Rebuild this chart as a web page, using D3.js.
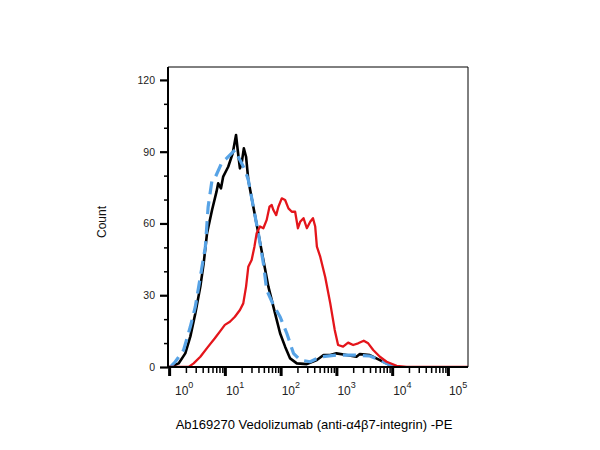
<!DOCTYPE html>
<html>
<head>
<meta charset="utf-8">
<script src="https://cdn.jsdelivr.net/npm/d3@7"></script>
<style>
  html, body { margin: 0; padding: 0; background: #fff; }
  svg { display: block; font-family: "Liberation Sans", Arial, sans-serif; }
</style>
</head>
<body>
<svg id="chart" width="600" height="450"></svg>
<script>
// ---- Data (x as log10 of PE intensity, y as Count) ----
const decadeTicks = [0, 1, 2, 3, 4, 5];
const countTicks = [0, 30, 60, 90, 120];

const blackX = [0.00, 0.02, 0.17, 0.29, 0.38, 0.47, 0.56, 0.62, 0.68, 0.77, 0.85, 0.88, 0.93, 0.97, 1.06, 1.14, 1.20, 1.23, 1.27, 1.30, 1.34, 1.38, 1.42, 1.51, 1.60, 1.69, 1.78, 1.90, 1.99, 2.08, 2.17, 2.29, 2.47, 2.65, 2.77, 2.89, 3.00, 3.18, 3.36, 3.42, 3.60, 3.78, 3.90, 4.02, 4.10];
const blackY = [0, 0, 1.5, 5.7, 12.7, 22.4, 33.6, 43.4, 55.9, 65.6, 73.3, 76.8, 74.7, 79.6, 83.7, 89.3, 97, 90.7, 83, 85, 91.4, 87.9, 78.2, 67, 55.9, 44.7, 33.6, 22.4, 14.1, 8.5, 3.6, 1.5, 1.2, 2.9, 5, 5, 5.7, 5, 4.3, 5.4, 5, 2.9, 1.5, 0.1, 0];

const blueX = [0.02, 0.11, 0.26, 0.38, 0.47, 0.56, 0.65, 0.70, 0.77, 0.82, 0.94, 1.03, 1.12, 1.18, 1.27, 1.36, 1.42, 1.51, 1.60, 1.69, 1.75, 1.87, 1.99, 2.11, 2.23, 2.35, 2.53, 2.71, 3.00, 3.30, 3.60, 3.78, 3.96, 4.08];
const blueY = [0, 2.2, 7.1, 16.8, 25.2, 37.7, 50.3, 67, 78.2, 78.9, 85.2, 87.2, 89.3, 90.7, 86.5, 82.4, 78.2, 67, 55.9, 43.4, 32.2, 25.9, 21, 14.1, 5.7, 2.9, 2.2, 4.2, 5, 5, 4.6, 2.9, 0.8, 0];

const redX = [-0.02, 0.20, 0.35, 0.44, 0.56, 0.70, 0.82, 0.91, 1.00, 1.09, 1.18, 1.27, 1.33, 1.38, 1.42, 1.48, 1.53, 1.57, 1.63, 1.69, 1.75, 1.80, 1.84, 1.87, 1.92, 1.96, 2.02, 2.08, 2.14, 2.20, 2.26, 2.31, 2.35, 2.41, 2.47, 2.53, 2.58, 2.62, 2.65, 2.71, 2.80, 2.89, 2.97, 3.03, 3.12, 3.21, 3.30, 3.39, 3.49, 3.57, 3.66, 3.78, 3.90, 4.08, 4.26, 5.36];
const redY = [0, 0, 0, 1.5, 4.3, 8.5, 12, 14.8, 17.6, 18.9, 21, 23.8, 26.6, 33.6, 41.9, 44.7, 50.3, 55.9, 58.7, 58, 61.5, 67, 67.7, 65.6, 63.5, 67, 70.5, 69.8, 66.3, 64.9, 64.9, 58, 60.7, 62.2, 58, 60.7, 62.2, 58.7, 50.3, 46.1, 37.5, 26.6, 15.5, 9.2, 8.5, 10.2, 9.2, 9.9, 11, 9.9, 7.1, 4.3, 2.2, 0.5, 0, 0];

const xTitle = "Ab169270 Vedolizumab (anti-\u03b14\u03b27-integrin) -PE";
const yTitle = "Count";

// ---- Layout ----
const svg = d3.select("#chart");
const mLeft = 168, mTop = 67, W = 300, H = 300;

const x = d3.scaleLinear().domain([-0.02, 5.36]).range([0, W]);
const y = d3.scaleLinear().domain([0, 125.4]).range([H, 0]);

const g = svg.append("g").attr("transform", `translate(${mLeft},${mTop})`);

g.append("clipPath").attr("id", "clip").append("rect")
  .attr("x", 0).attr("y", -2).attr("width", W).attr("height", H + 2);

const line = d3.line().x(d => x(d[0])).y(d => y(d[1])).curve(d3.curveLinear);
const plot = g.append("g").attr("clip-path", "url(#clip)");

plot.append("path").datum(blackX.map((v, i) => [v, blackY[i]]))
  .attr("d", line).attr("fill", "none").attr("stroke", "#000")
  .attr("stroke-width", 2.6).attr("stroke-linejoin", "round");

plot.append("path").datum(blueX.map((v, i) => [v, blueY[i]]))
  .attr("d", line).attr("fill", "none").attr("stroke", "#57a3e6")
  .attr("stroke-width", 3.2).attr("stroke-dasharray", "13,7")
  .attr("stroke-linejoin", "round");

plot.append("path").datum(redX.map((v, i) => [v, redY[i]]))
  .attr("d", line).attr("fill", "none").attr("stroke", "#e4151b")
  .attr("stroke-width", 2.3).attr("stroke-linejoin", "round");

// frame
g.append("line").attr("x1", 0).attr("x2", W).attr("y1", 0).attr("y2", 0).attr("stroke", "#000").attr("stroke-width", 1);
g.append("line").attr("x1", W).attr("x2", W).attr("y1", 0).attr("y2", H).attr("stroke", "#000").attr("stroke-width", 1);
g.append("line").attr("x1", 0).attr("x2", 0).attr("y1", 0).attr("y2", H + 1).attr("stroke", "#000").attr("stroke-width", 2);
g.append("line").attr("x1", -1).attr("x2", W).attr("y1", H).attr("y2", H).attr("stroke", "#000").attr("stroke-width", 2);

// y axis
const minorY = d3.range(0, 121, 10).filter(v => !countTicks.includes(v));
const yMinor = g.append("g").call(d3.axisLeft(y).tickValues(minorY).tickSize(4).tickFormat(""));
yMinor.select(".domain").remove();
yMinor.selectAll("line").attr("stroke-width", 1.5);

const yMajor = g.append("g").call(d3.axisLeft(y).tickValues(countTicks).tickSize(8).tickPadding(5));
yMajor.select(".domain").remove();
yMajor.selectAll("line").attr("stroke-width", 2.2);
yMajor.selectAll("text").attr("font-size", 10.5).attr("fill", "#222")
  .attr("font-family", "Liberation Sans, Arial, sans-serif");

// x axis
const minorX = [];
decadeTicks.slice(0, -1).forEach(d => { for (let k = 2; k <= 9; k++) minorX.push(d + Math.log10(k)); });
const xMinor = g.append("g").attr("transform", `translate(0,${H})`)
  .call(d3.axisBottom(x).tickValues(minorX).tickSize(6).tickFormat(""));
xMinor.select(".domain").remove();
xMinor.selectAll("line").attr("stroke-width", 1.5);

const xMajor = g.append("g").attr("transform", `translate(0,${H})`)
  .call(d3.axisBottom(x).tickValues(decadeTicks).tickSize(9).tickFormat(""));
xMajor.select(".domain").remove();
xMajor.selectAll("line").attr("stroke-width", 3);

const xl = g.append("g").selectAll("text").data(decadeTicks).join("text")
  .attr("x", d => Math.max(x(d) + 1, 7))
  .attr("y", H + 28)
  .attr("font-size", 12).attr("fill", "#222").attr("text-anchor", "start");
xl.append("tspan").text("10");
xl.append("tspan").attr("dy", -7).attr("font-size", 9).text(d => d);

// titles
svg.append("text").attr("x", 314).attr("y", 429).attr("text-anchor", "middle")
  .attr("font-size", 13).attr("fill", "#000").text(xTitle);
svg.append("text").attr("transform", "translate(106,222) rotate(-90)")
  .attr("text-anchor", "middle").attr("font-size", 12).attr("fill", "#111").text(yTitle);
</script>
</body>
</html>
